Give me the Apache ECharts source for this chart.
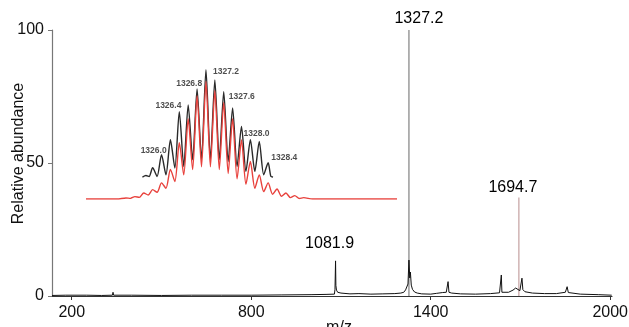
<!DOCTYPE html>
<html><head><meta charset="utf-8">
<script src="https://cdn.jsdelivr.net/npm/echarts@6/dist/echarts.min.js"></script>
<style>html,body{margin:0;padding:0;background:#fff}#c{width:629px;height:327px}</style>
</head><body><div id="c"></div>
<script>
// ---------- data ----------
const xTicks = [200, 800, 1400, 2000];
const yTicks = [0, 50, 100];
// main spectrum [m/z, relative abundance]
const spectrum = [
  [134,0.2],[180,0.3],[250,0.3],[300,0.2],[336,0.3],[338,1.4],[340,0.3],[400,0.3],[500,0.2],[600,0.3],
  [700,0.3],[800,0.3],[900,0.4],[1000,0.5],[1050,0.6],[1078,0.7],[1080,2.5],[1081.9,13.2],[1083,4],
  [1085,2.2],[1089,1.4],[1100,1.1],[1130,0.8],[1160,0.9],[1200,0.7],[1240,0.8],[1280,0.9],[1300,1.1],
  [1310,1.4],[1316,2.3],[1320,3],[1324,4.5],[1327.2,13.5],[1330,6.8],[1332,9],[1335,4.1],[1339,2.5],
  [1346,1.5],[1355,1.1],[1370,0.8],[1400,0.7],[1420,1.0],[1440,1.3],[1452,1.4],[1458,5.4],[1461,1.4],
  [1470,1.1],[1500,0.8],[1550,0.7],[1600,0.9],[1630,1.2],[1636,7.9],[1638,1.4],[1660,1.4],[1675,2.2],
  [1684,3],[1690,3.5],[1698,2],[1705,6.7],[1708,2.4],[1715,1.6],[1740,1.1],[1780,0.9],[1820,0.9],
  [1850,1.4],[1856,3.5],[1860,1.3],[1900,0.7],[1960,0.5],[2005,0.3]
];
// annotated peaks
const peakNames = ['1081.9', '1327.2', '1694.7'];
const peakMz = [1081.9, 1327.2, 1694.7];
const peakTop = [13.2, 100, 37];
// inset: measured isotope pattern (black) [m/z, intensity]
const isoMeasured = [
  [1325.77,16.4],[1325.85,17.5],[1325.92,16.8],[1326.0,23.3],[1326.1,16.8],[1326.2,33],[1326.3,18.1],
  [1326.4,44.2],[1326.5,23.1],[1326.6,65.2],[1326.7,24.3],[1326.8,70.2],[1326.9,29.3],[1327.0,82.1],
  [1327.1,29.3],[1327.2,96.5],[1327.3,29.3],[1327.4,88.8],[1327.5,29.3],[1327.6,80.1],[1327.7,28],
  [1327.8,68],[1327.9,24.3],[1328.0,54.1],[1328.1,20.6],[1328.2,44.2],[1328.3,20.6],[1328.4,42.9],
  [1328.5,18.1],[1328.6,27],[1328.66,17],[1328.71,16.4]
];
// inset: simulated isotope pattern (red)
const isoSimulated = [
  [1324.5,0],[1325.2,0],[1325.4,0.8],[1325.5,0.5],[1325.6,1.8],[1325.7,1.2],[1325.8,4.5],[1325.9,3],
  [1326.0,7],[1326.1,5],[1326.2,12],[1326.3,8],[1326.4,22],[1326.5,13],[1326.6,42],[1326.7,18],
  [1326.8,60],[1326.9,22],[1327.0,77],[1327.1,24],[1327.2,88],[1327.3,24],[1327.4,81],[1327.5,22],
  [1327.6,72],[1327.7,19],[1327.8,60],[1327.9,15],[1328.0,44],[1328.1,11],[1328.2,28],[1328.3,8],
  [1328.4,18],[1328.5,5.5],[1328.6,12],[1328.7,3.5],[1328.8,7.5],[1328.9,2],[1329.0,4.5],[1329.1,1],
  [1329.2,2.5],[1329.3,0.4],[1329.4,1],[1329.6,0],[1331.5,0]
];
const isoLabels = ['1326.0','1326.4','1326.8','1327.2','1327.6','1328.0','1328.4'];
const isoLabelHeights = [23.3, 44.2, 70.2, 96.5, 80.1, 54.1, 42.9];

// ---------- rendering ----------
const isoOffsets = [[1,-17],[-2,-34],[1,-21],[20,2],[18,5],[15,7],[25,16]];
const peakOffsets = [[-6,-17],[10,-11],[-6,-10]];
const peakLineColors = ['#000', '#808080', '#c4a0a0'];
const font = 'Liberation Sans, Arial, Helvetica, sans-serif';

const chart = echarts.init(document.getElementById('c'));
const series = [
  { type:'line', xAxisIndex:0, yAxisIndex:0, data: spectrum, showSymbol:false, symbol:'none',
    lineStyle:{color:'#111', width:1}, z:3, animation:false },
];
[1,2].forEach(i => {
  series.push({ type:'line', xAxisIndex:0, yAxisIndex:0, symbol:'none',
    data: [[peakMz[i],0],[peakMz[i],peakTop[i]]],
    lineStyle:{color:peakLineColors[i], width:1.2}, z:2, animation:false });
});
series.push({ type:'scatter', xAxisIndex:0, yAxisIndex:0, symbolSize:0,
  itemStyle:{color:'#000'}, animation:false, silent:true, z:5,
  data: peakMz.map((m,i)=>({ value:[m, peakTop[i]], name: peakNames[i],
    label:{ show:true, formatter: peakNames[i], position:'inside', offset: peakOffsets[i],
      fontSize:16, color:'#000', opacity:1, fontFamily: font, align:'center', verticalAlign:'middle' } }))
});
series.push({ type:'line', xAxisIndex:1, yAxisIndex:1, data: isoSimulated, symbol:'none', smooth:0.25,
  lineStyle:{color:'#e8413c', width:1.4}, z:3, animation:false });
series.push({ type:'line', xAxisIndex:1, yAxisIndex:1, data: isoMeasured, symbol:'none', smooth:0.25,
  lineStyle:{color:'#2a2a2a', width:1.4}, z:2, animation:false });
series.push({ type:'scatter', xAxisIndex:1, yAxisIndex:1, symbolSize:0,
  itemStyle:{color:'#000'}, animation:false, silent:true, z:6,
  data: isoLabels.map((t,i)=>({ value:[parseFloat(t), isoLabelHeights[i]],
    label:{ show:true, formatter:t, position:'inside', offset: isoOffsets[i],
      fontSize:8.5, fontWeight:'bold', color:'#222', fontFamily: font, align:'center', verticalAlign:'middle' } }))
});

chart.setOption({
  animation:false,
  backgroundColor:'#fff',
  grid:[
    { left:52, right:17, top:30, bottom:31, containLabel:false, outerBoundsMode:'none' },
    { left:86, right:232, top:65, bottom:128, containLabel:false, outerBoundsMode:'none' }
  ],
  xAxis:[
    { type:'value', gridIndex:0, min:134, max:2006, name:'m/z', nameLocation:'middle', nameGap:24,
      nameMoveOverlap:false,
      nameTextStyle:{ fontSize:16, color:'#111', fontFamily:font, padding:[0,0,0,14] },
      axisLine:{ lineStyle:{ color:'#333', width:1.2 } },
      axisTick:{ show:true, customValues: xTicks, length:4, lineStyle:{color:'#333'} },
      axisLabel:{ customValues: xTicks, formatter: v => String(v), fontSize:16, color:'#111', fontFamily:font, margin:9 },
      splitLine:{ show:false } },
    { type:'value', gridIndex:1, min:1324.5, max:1331.5, show:false }
  ],
  yAxis:[
    { type:'value', gridIndex:0, min:0, max:100, interval:50, name:'Relative abundance',
      nameLocation:'middle', nameGap:25, nameMoveOverlap:false,
      nameTextStyle:{ fontSize:16, color:'#111', fontFamily:font, padding:[0,0,0,19] },
      axisLine:{ show:true, lineStyle:{ color:'#777', width:1.2 } },
      axisTick:{ show:true, length:4, lineStyle:{color:'#777'} },
      axisLabel:{ formatter: v => String(v), fontSize:16, color:'#111', fontFamily:font, margin:8 },
      splitLine:{ show:false } },
    { type:'value', gridIndex:1, min:0, max:100, show:false }
  ],
  series
});
</script></body></html>
